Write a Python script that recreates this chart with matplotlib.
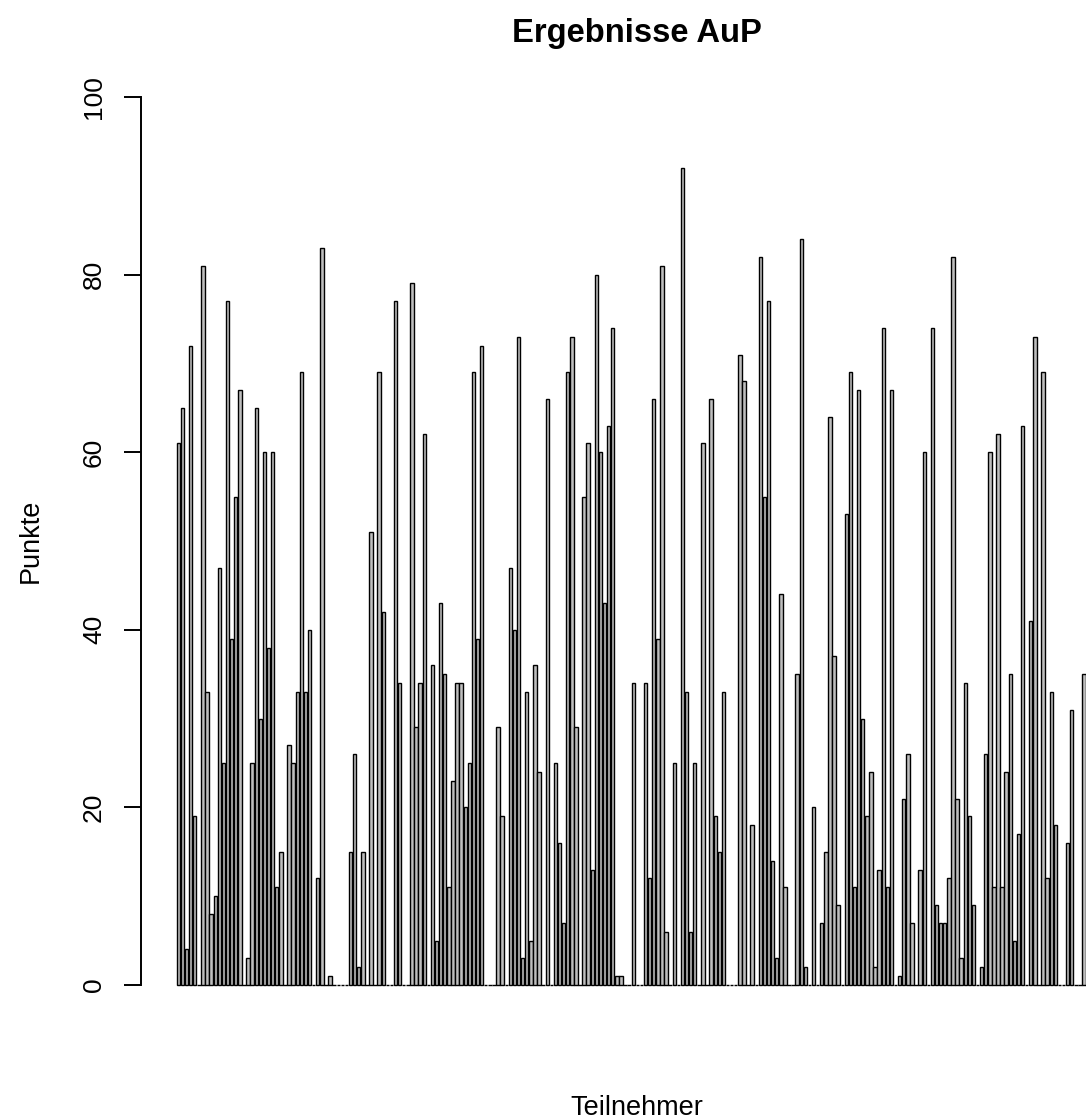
import numpy as np
import matplotlib
matplotlib.use("Agg")
import matplotlib.pyplot as plt

plt.rcParams["font.family"] = ["Liberation Sans", "DejaVu Sans"]

# Punkte pro Teilnehmer (0 = nicht teilgenommen)
punkte = [
    61, 65, 4, 72, 19, 0, 81, 33, 8, 10,
    47, 25, 77, 39, 55, 67, 0, 3, 25, 65,
    30, 60, 38, 60, 11, 15, 0, 27, 25, 33,
    69, 33, 40, 0, 12, 83, 0, 1, 0, 0,
    0, 0, 15, 26, 2, 15, 0, 51, 0, 69,
    42, 0, 0, 77, 34, 0, 0, 79, 29, 34,
    62, 0, 36, 5, 43, 35, 11, 23, 34, 34,
    20, 25, 69, 39, 72, 0, 0, 0, 29, 19,
    0, 47, 40, 73, 3, 33, 5, 36, 24, 0,
    66, 0, 25, 16, 7, 69, 73, 29, 0, 55,
    61, 13, 80, 60, 43, 63, 74, 1, 1, 0,
    0, 34, 0, 0, 34, 12, 66, 39, 81, 6,
    0, 25, 0, 92, 33, 6, 25, 0, 61, 0,
    66, 19, 15, 33, 0, 0, 0, 71, 68, 0,
    18, 0, 82, 55, 77, 14, 3, 44, 11, 0,
    0, 35, 84, 2, 0, 20, 0, 7, 15, 64,
    37, 9, 0, 53, 69, 11, 67, 30, 19, 24,
    2, 13, 74, 11, 67, 0, 1, 21, 26, 7,
    0, 13, 60, 0, 74, 9, 7, 7, 12, 82,
    21, 3, 34, 19, 9, 0, 2, 26, 60, 11,
    62, 11, 24, 35, 5, 17, 63, 0, 41, 73,
    0, 69, 12, 33, 18, 0, 0, 16, 31, 0,
    0, 35,
]
y_ticks = [0, 20, 40, 60, 80, 100]

W, H = 1086, 1120
fig = plt.figure(figsize=(W / 100, H / 100), dpi=100)

# plot region in pixels: left 141, top 61.5, bottom 1020.5
ax = fig.add_axes([141 / W, (H - 1020.5) / H, (W - 141) / W, 959 / H])

# barplot layout: width 1, space 0.2
n = len(punkte)
left = 0.2 + 1.2 * np.arange(n)
ax.bar(left, punkte, width=1.0, align="edge", color="#bebebe",
       edgecolor="black", linewidth=1.0)

ax.set_xlim(-10.25, 266.47)
ax.set_ylim(-4, 104)

for side in ("top", "right", "bottom"):
    ax.spines[side].set_visible(False)
ax.spines["left"].set_bounds(0, 100)
ax.spines["left"].set_linewidth(1.4)
ax.set_xticks([])
ax.set_yticks(y_ticks)
ax.set_yticklabels([str(t) for t in y_ticks], rotation=90, va="center",
                   fontsize=19)
ax.tick_params(axis="y", direction="out", length=12.2, width=1.4, pad=13)

fig.text(637 / W, 1 - 42 / H, "Ergebnisse AuP", ha="center",
         va="baseline", fontsize=23.6, fontweight="bold")
fig.text(637 / W, 1 - 1115 / H, "Teilnehmer", ha="center", va="baseline",
         fontsize=19.5)
fig.text(31 / W, 1 - 541 / H, "Punkte", ha="center", va="center",
         rotation=90, fontsize=19.5)

fig.savefig("out.png", dpi=100)
